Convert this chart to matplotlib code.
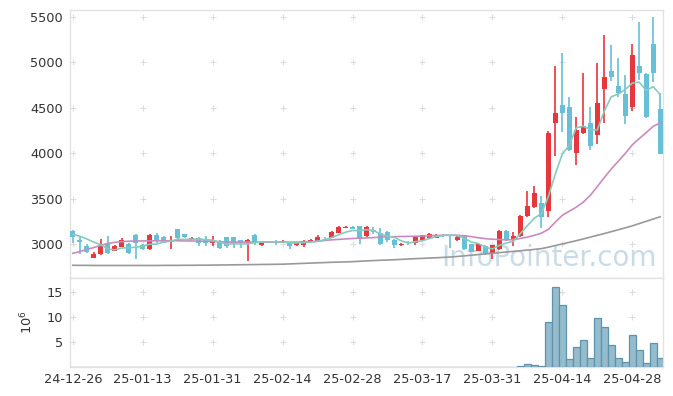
import matplotlib
matplotlib.use("Agg")
import matplotlib.pyplot as plt
import numpy as np
import pandas as pd

# ---------------- data ----------------
holidays = ["2024-12-31", "2025-01-01", "2025-01-27", "2025-01-28", "2025-01-29",
            "2025-01-30", "2025-03-03", "2025-05-01", "2025-05-05", "2025-05-06"]
dates = pd.bdate_range("2024-12-26", "2025-05-07", freq="C", holidays=holidays)

opens = [3144, 3041, 2978, 2848, 2886, 3000, 2923, 2970, 3000, 3100,
         2985, 2941, 3100, 3077, 3022, 3163, 3107, 3052, 3066, 3041,
         3014, 3033, 3077, 3077, 3041, 3008, 3100, 2985, 3033, 3033,
         3014, 3022, 2985, 2989, 3025, 3033, 3070, 3070, 3125, 3180,
         3191, 3199, 3088, 3155, 3118, 3133, 3044, 2989, 3025, 3014,
         3041, 3070, 3070, 3100, 3096, 3041, 3096, 2996, 2923, 2978,
         2904, 2941, 3144, 3041, 3088, 3310, 3409, 3446, 3365, 4331,
         4527, 4502, 3999, 4220, 4335, 4195, 4700, 4903, 4737, 4648,
         4508, 4958, 4869, 5201, 4482]
highs = [3155, 3085, 2996, 2915, 3052, 3088, 2985, 3060, 3010, 3110,
         2995, 3105, 3115, 3085, 3088, 3165, 3110, 3080, 3075, 3088,
         3090, 3040, 3080, 3080, 3045, 3050, 3105, 3025, 3035, 3040,
         3040, 3025, 3020, 3040, 3050, 3100, 3080, 3140, 3200, 3200,
         3195, 3200, 3195, 3188, 3180, 3140, 3050, 3005, 3033, 3080,
         3100, 3115, 3110, 3105, 3100, 3100, 3100, 3000, 3000, 2985,
         2990, 3150, 3150, 3136, 3320, 3586, 3641, 3530, 4239, 4958,
         5098, 4619, 4397, 4877, 4508, 4996, 5301, 5190, 5050, 4858,
         5199, 5448, 4880, 5497, 4663]
lows = [3014, 2886, 2904, 2848, 2880, 2890, 2920, 2965, 2890, 2830,
        2935, 2935, 3010, 3005, 2941, 3030, 3060, 3045, 2980, 2980,
        2975, 2945, 2960, 2960, 2960, 2812, 2990, 2980, 3005, 2990,
        3010, 2941, 2980, 2970, 3020, 3030, 3045, 3065, 3120, 3170,
        3160, 2996, 3077, 3107, 2985, 3020, 2952, 2980, 2985, 2985,
        3035, 3060, 3065, 3080, 2960, 3035, 2935, 2910, 2920, 2880,
        2830, 2935, 3035, 2978, 3080, 3300, 3400, 3180, 3299, 3973,
        4231, 4020, 3874, 4210, 4029, 4095, 4336, 4792, 4619, 4324,
        4467, 4800, 4390, 4785, 3985]
closes = [3081, 3019, 2915, 2893, 2978, 2897, 2978, 3041, 2897, 3008,
          2941, 3100, 3044, 3014, 3044, 3063, 3077, 3066, 3014, 3014,
          3041, 2952, 2978, 3014, 3014, 3041, 3022, 3022, 3014, 3014,
          3033, 2978, 3014, 3033, 3044, 3077, 3060, 3133, 3188, 3188,
          3169, 3052, 3188, 3136, 3003, 3041, 2989, 2996, 3019, 3077,
          3096, 3111, 3103, 3085, 3085, 3081, 2941, 2915, 2996, 2886,
          2985, 3144, 3041, 3088, 3310, 3420, 3557, 3291, 4220, 4446,
          4442, 4029, 4257, 4303, 4076, 4549, 4833, 4840, 4663, 4405,
          5080, 4877, 4397, 4877, 3992]
volume_m = [0.04, 0.03, 0.04, 0.03, 0.05, 0.04, 0.03, 0.04, 0.03, 0.05,
            0.03, 0.04, 0.03, 0.03, 0.04, 0.05, 0.03, 0.03, 0.04, 0.03,
            0.03, 0.04, 0.03, 0.03, 0.03, 0.05, 0.04, 0.03, 0.03, 0.03,
            0.03, 0.04, 0.03, 0.03, 0.03, 0.04, 0.03, 0.05, 0.05, 0.04,
            0.03, 0.05, 0.04, 0.03, 0.04, 0.04, 0.04, 0.03, 0.03, 0.04,
            0.04, 0.04, 0.03, 0.03, 0.04, 0.04, 0.05, 0.04, 0.03, 0.04,
            0.05, 0.06, 0.05, 0.08, 0.15, 0.60, 0.40, 0.20, 8.9, 16.0,
            12.3, 1.6, 3.95, 5.35, 1.8, 9.7, 7.9, 4.35, 1.8, 1.05,
            6.35, 3.4, 0.85, 4.75, 1.8]
ma5 = [3107, 3085, 3055, 3020, 2990, 2945, 2935, 2955, 2958, 2964,
       2973, 2997, 2998, 3021, 3029, 3053, 3048, 3053, 3053, 3047,
       3042, 3017, 3000, 3000, 3000, 3000, 3014, 3023, 3023, 3023,
       3021, 3012, 3011, 3014, 3020, 3029, 3046, 3069, 3100, 3129,
       3148, 3146, 3157, 3147, 3110, 3084, 3071, 3033, 3010, 3024,
       3035, 3060, 3081, 3094, 3096, 3093, 3059, 3021, 3004, 2964,
       2945, 2985, 3010, 3029, 3114, 3201, 3283, 3333, 3520, 3770,
       3991, 4086, 4279, 4295, 4260, 4255, 4460, 4620, 4650, 4700,
       4770, 4780, 4690, 4730, 4645]
ma20 = [2897, 2915, 2940, 2960, 2985, 3005, 3018, 3025, 3030, 3033,
        3033, 3033, 3035, 3035, 3035, 3035, 3033, 3033, 3030, 3030,
        3028, 3025, 3022, 3020, 3020, 3020, 3020, 3020, 3020, 3020,
        3020, 3020, 3020, 3022, 3025, 3030, 3038, 3045, 3050, 3055,
        3060, 3063, 3066, 3070, 3075, 3078, 3080, 3082, 3083, 3085,
        3086, 3090, 3093, 3096, 3096, 3095, 3090, 3080, 3068, 3058,
        3052, 3048, 3044, 3048, 3060, 3075, 3095, 3118, 3160, 3240,
        3315, 3360, 3405, 3460, 3535, 3630, 3730, 3825, 3910, 3995,
        4090, 4160, 4225, 4295, 4331]
ma60 = [2765, 2764, 2764, 2763, 2763, 2763, 2763, 2763, 2763, 2763,
        2763, 2763, 2763, 2764, 2764, 2764, 2765, 2765, 2766, 2766,
        2767, 2768, 2769, 2770, 2771, 2772, 2773, 2774, 2775, 2776,
        2777, 2780, 2783, 2786, 2789, 2792, 2795, 2798, 2800, 2802,
        2805, 2809, 2813, 2817, 2820, 2823, 2826, 2830, 2834, 2838,
        2841, 2845, 2848, 2852, 2856, 2862, 2869, 2876, 2883, 2890,
        2897, 2904, 2911, 2918, 2925, 2932, 2940, 2948, 2964, 2982,
        3000, 3018, 3036, 3055, 3075, 3095, 3114, 3135, 3156, 3177,
        3199, 3224, 3249, 3274, 3299]

price_ticks = [3000, 3500, 4000, 4500, 5000, 5500]
vol_ticks = [5, 10, 15]
label_every = 10

# ---------------- styling ----------------
RED = "#e8363d"
BLUE = "#68c0d8"
TEAL = "#86cbbd"
PINK = "#c98bbf"
GRAY = "#999999"
SPINE = "#e2e2e2"
TXT = "#333333"

o = np.array(opens, float)
h = np.array(highs, float)
l = np.array(lows, float)
c = np.array(closes, float)
n = len(c)
x = np.arange(n)
cols = np.where(c >= o, RED, BLUE)

W, H = 673, 396
fig = plt.figure(figsize=(W / 100, H / 100), dpi=100)
ax = fig.add_axes([70 / W, 1 - 278 / H, 593 / W, 268 / H])
axv = fig.add_axes([70 / W, 1 - 367 / H, 593 / W, 89 / H], sharex=ax)

# watermark
ax.text(0.99, 0.045, "InfoPointer.com", transform=ax.transAxes, ha="right",
        va="baseline", fontsize=20, color="#c9dce6", zorder=0)

# candles
ax.vlines(x, l, h, colors=cols, linewidth=1.2, zorder=2)
ax.bar(x, np.maximum(np.abs(c - o), 4), bottom=np.minimum(o, c), width=0.72,
       color=cols, linewidth=0, zorder=3)

# moving averages
ax.plot(x, ma60, color=GRAY, lw=1.2, zorder=4)
ax.plot(x, ma20, color=PINK, lw=1.2, zorder=4)
ax.plot(x, ma5, color=TEAL, lw=1.2, zorder=4)

# volume
axv.bar(x, volume_m, width=1.0, color="#95bccd", edgecolor="#5e93ab",
        linewidth=0.9, zorder=3)

ax.set_xlim(-0.4, n - 0.6)
ax.set_ylim(2625, 5575)
axv.set_ylim(0, 17.7)

tick_idx = list(range(0, n, label_every))
tick_lbl = [dates[i].strftime("%y-%m-%d") for i in tick_idx]
axv.set_xticks(tick_idx)
axv.set_xticklabels(tick_lbl)
plt.setp(ax.get_xticklabels(), visible=False)
ax.set_yticks(price_ticks)
axv.set_yticks(vol_ticks)

for a, yt in ((ax, price_ticks), (axv, vol_ticks)):
    for s in a.spines.values():
        s.set_color(SPINE)
        s.set_linewidth(1.0)
    a.tick_params(length=0, labelsize=9.3, colors=TXT, pad=5)
    gx, gy = np.meshgrid(tick_idx, yt)
    a.scatter(gx.ravel(), gy.ravel(), marker="+", s=14, color="#dcdcdc",
              linewidths=0.8, zorder=1)

axv.tick_params(axis="x", pad=4)
axv.set_ylabel("$10^6$", fontsize=9.3, color=TXT, labelpad=8)

fig.savefig("out.png", dpi=100)
